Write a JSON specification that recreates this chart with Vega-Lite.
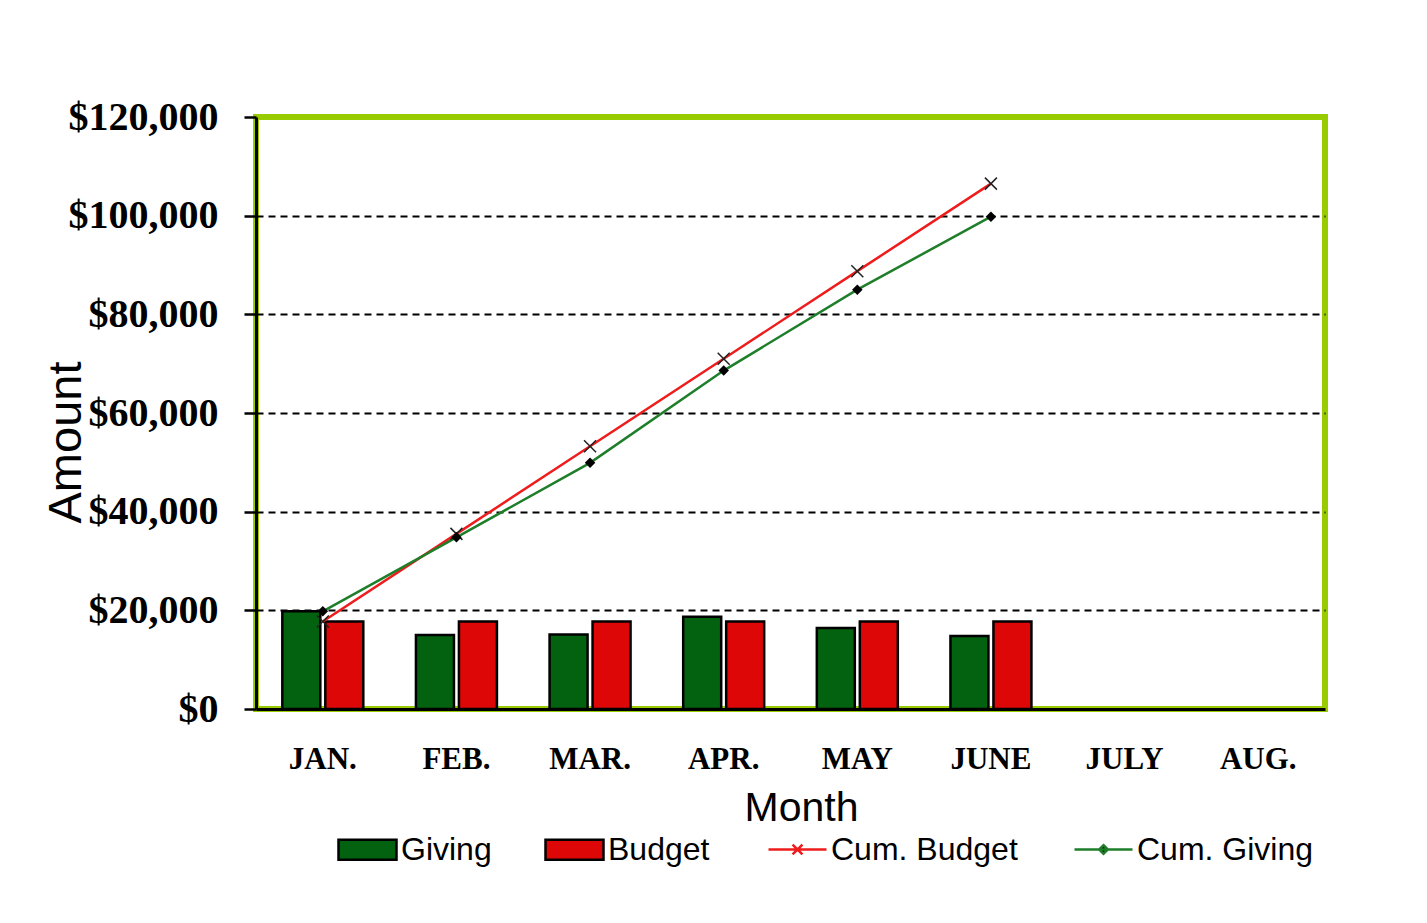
{
  "$schema": "https://vega.github.io/schema/vega-lite/v6.json",
  "width": 1069,
  "height": 592,
  "autosize": {"type": "none"},
  "padding": {"left": 256, "top": 117, "right": 102, "bottom": 214},
  "background": "white",
  "config": {
    "view": {"stroke": "#99CC00", "strokeWidth": 6},
    "axis": {"labelColor": "black", "titleColor": "black"},
    "legend": {
      "orient": "none",
      "legendY": 702,
      "direction": "horizontal",
      "padding": 0,
      "symbolSize": 3364,
      "labelFont": "Liberation Sans",
      "labelFontSize": 32,
      "labelColor": "black",
      "labelOffset": 3,
      "labelLimit": 400,
      "columnPadding": 48
    }
  },
  "data": {
    "values": [
      {"month": "JAN.", "series": "Giving", "value": 19800},
      {"month": "FEB.", "series": "Giving", "value": 15000},
      {"month": "MAR.", "series": "Giving", "value": 15100},
      {"month": "APR.", "series": "Giving", "value": 18700},
      {"month": "MAY", "series": "Giving", "value": 16400},
      {"month": "JUNE", "series": "Giving", "value": 14800},
      {"month": "JAN.", "series": "Budget", "value": 17750},
      {"month": "FEB.", "series": "Budget", "value": 17750},
      {"month": "MAR.", "series": "Budget", "value": 17750},
      {"month": "APR.", "series": "Budget", "value": 17750},
      {"month": "MAY", "series": "Budget", "value": 17750},
      {"month": "JUNE", "series": "Budget", "value": 17750},
      {"month": "JAN.", "series": "Cum. Budget", "value": 17750},
      {"month": "FEB.", "series": "Cum. Budget", "value": 35500},
      {"month": "MAR.", "series": "Cum. Budget", "value": 53250},
      {"month": "APR.", "series": "Cum. Budget", "value": 71000},
      {"month": "MAY", "series": "Cum. Budget", "value": 88750},
      {"month": "JUNE", "series": "Cum. Budget", "value": 106500},
      {"month": "JAN.", "series": "Cum. Giving", "value": 19800},
      {"month": "FEB.", "series": "Cum. Giving", "value": 34800},
      {"month": "MAR.", "series": "Cum. Giving", "value": 49900},
      {"month": "APR.", "series": "Cum. Giving", "value": 68600},
      {"month": "MAY", "series": "Cum. Giving", "value": 85000},
      {"month": "JUNE", "series": "Cum. Giving", "value": 99800}
    ]
  },
  "encoding": {
    "x": {
      "field": "month",
      "type": "nominal",
      "sort": null,
      "scale": {
        "domain": ["JAN.", "FEB.", "MAR.", "APR.", "MAY", "JUNE", "JULY", "AUG."],
        "paddingInner": 0.394,
        "paddingOuter": 0.197
      },
      "axis": {
        "title": "Month",
        "titleFont": "Liberation Sans",
        "titleFontSize": 41,
        "titleFontWeight": "normal",
        "titleX": 545,
        "titleY": 111,
        "titleBaseline": "alphabetic",
        "titleAlign": "center",
        "labelFont": "Liberation Serif",
        "labelFontSize": 31,
        "labelFontWeight": "bold",
        "labelAngle": 0,
        "labelBaseline": "alphabetic",
        "labelPadding": 59,
        "ticks": false,
        "tickSize": 0,
        "domain": true,
        "domainColor": "black",
        "domainWidth": 3,
        "grid": false
      }
    },
    "y": {
      "field": "value",
      "type": "quantitative",
      "scale": {"domain": [0, 120000], "nice": false, "zero": true},
      "axis": {
        "title": "Amount",
        "titleFont": "Liberation Sans",
        "titleFontSize": 47,
        "titleFontWeight": "normal",
        "titleX": -176,
        "titleY": 325,
        "titleAngle": 270,
        "titleBaseline": "alphabetic",
        "titleAlign": "center",
        "values": [0, 20000, 40000, 60000, 80000, 100000, 120000],
        "format": "$,.0f",
        "labelFont": "Liberation Serif",
        "labelFontSize": 40,
        "labelFontWeight": "bold",
        "labelPadding": 26,
        "ticks": true,
        "tickSize": 12,
        "tickWidth": 2.5,
        "tickColor": "black",
        "domain": true,
        "domainColor": "black",
        "domainWidth": 3,
        "grid": true,
        "gridColor": "black",
        "gridWidth": 2,
        "gridDash": [7, 5],
        "gridOpacity": {"condition": {"test": "datum.value === 0 || datum.value === 120000", "value": 0}, "value": 1}
      }
    }
  },
  "layer": [
    {
      "transform": [{"filter": "datum.series === 'Giving' || datum.series === 'Budget'"}],
      "mark": {"type": "bar", "stroke": "black", "strokeWidth": 2.5},
      "encoding": {
        "xOffset": {
          "field": "series",
          "type": "nominal",
          "scale": {"domain": ["Giving", "Budget"], "paddingInner": 0.116, "paddingOuter": 0}
        },
        "fill": {
          "field": "series",
          "type": "nominal",
          "scale": {
            "domain": ["Giving", "Budget"],
            "range": ["#03620F", "#DD0707"]
          },
          "legend": {
            "title": null,
            "legendX": 81,
            "symbolType": "M-1,-0.345H1V0.345H-1Z",
            "symbolStrokeColor": "black",
            "symbolStrokeWidth": 2.5
          }
        }
      }
    },
    {
      "transform": [{"filter": "datum.series === 'Cum. Budget'"}],
      "mark": {"type": "line", "strokeWidth": 2.5},
      "encoding": {
        "stroke": {
          "field": "series",
          "type": "nominal",
          "scale": {"domain": ["Cum. Budget"], "range": ["#EE1C1C"]},
          "legend": {
            "title": null,
            "legendX": 511,
            "symbolType": "M-1,0H1M-0.17,-0.17L0.17,0.17M-0.17,0.17L0.17,-0.17",
            "symbolStrokeWidth": 2.5
          }
        }
      }
    },
    {
      "transform": [{"filter": "datum.series === 'Cum. Giving'"}],
      "mark": {"type": "line", "strokeWidth": 2.5},
      "encoding": {
        "color": {
          "field": "series",
          "type": "nominal",
          "scale": {"domain": ["Cum. Giving"], "range": ["#1E7E2A"]},
          "legend": {
            "title": null,
            "legendX": 817,
            "symbolType": "M-1,0H1M0,-0.15L0.15,0L0,0.15L-0.15,0Z",
            "symbolStrokeWidth": 2.5,
            "symbolFillColor": "black"
          }
        }
      }
    },
    {
      "transform": [{"filter": "datum.series === 'Cum. Budget'"}],
      "mark": {"type": "point", "shape": "M-1,-1L1,1M-1,1L1,-1", "filled": false, "stroke": "#222222", "strokeWidth": 1.5, "size": 144, "opacity": 1},
      "encoding": {}
    },
    {
      "transform": [{"filter": "datum.series === 'Cum. Giving'"}],
      "mark": {"type": "point", "shape": "diamond", "filled": true, "fill": "black", "size": 110, "opacity": 1},
      "encoding": {}
    }
  ],
  "resolve": {
    "scale": {"fill": "independent", "stroke": "independent", "color": "independent"},
    "legend": {"fill": "independent", "stroke": "independent", "color": "independent"}
  }
}
